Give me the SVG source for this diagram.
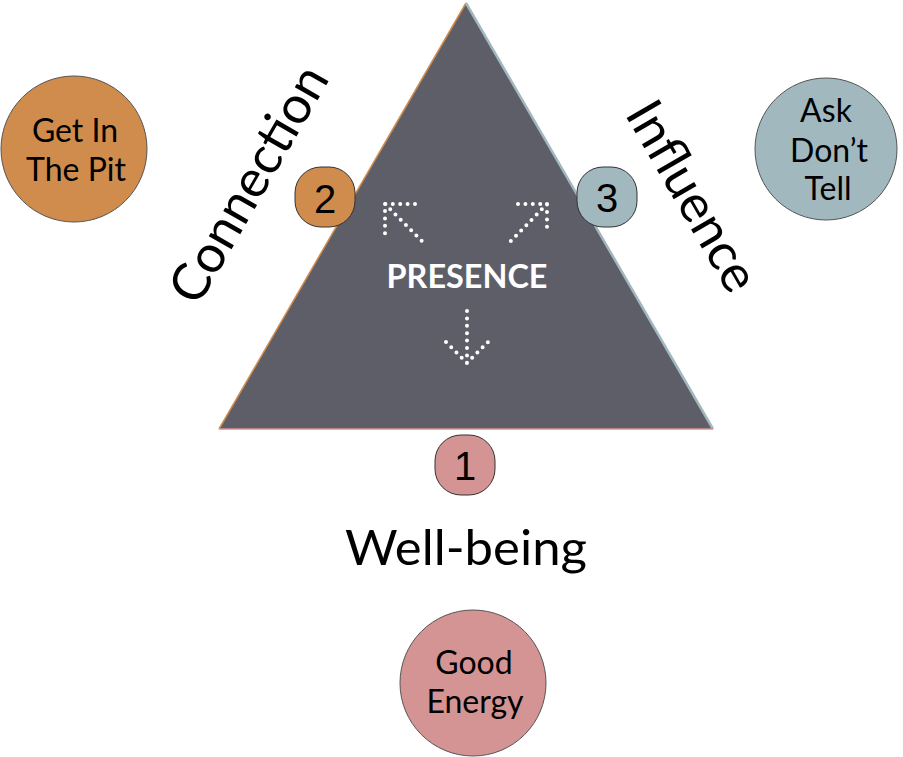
<svg xmlns="http://www.w3.org/2000/svg" width="903" height="757" viewBox="0 0 903 757">
<style>
.lbl{font-family:Lato,"Liberation Sans",sans-serif;fill:#000}
.circ{stroke:#555;stroke-width:1}
.badge{stroke:#333;stroke-width:1}
.num{font-family:"Liberation Sans",Arial,sans-serif;font-size:40px;text-anchor:middle;fill:#000}
.ctxt{font-family:Lato,"Liberation Sans",sans-serif;font-size:32px;text-anchor:middle;fill:#000}
.dots{fill:none;stroke:#fff;stroke-width:4;stroke-linecap:round;stroke-dasharray:0 7.4}
</style>
<rect width="903" height="757" fill="#fff"/>
<g id="triangle">
<polygon points="466,3 219,429 713,429" fill="#5e5e68"/>
<line x1="466" y1="3" x2="219" y2="429" stroke="#d08c4e" stroke-width="1.5"/>
<line x1="466" y1="3" x2="713" y2="429" stroke="#a0b8be" stroke-width="2.5"/>
<line x1="219" y1="429" x2="713" y2="429" stroke="#d59494" stroke-width="1.5"/>
<text x="467" y="288" font-family="Lato,'Liberation Sans',sans-serif" font-weight="bold" font-size="32" fill="#fff" text-anchor="middle" textLength="161" lengthAdjust="spacingAndGlyphs">PRESENCE</text>
</g>
<g id="connectors">
<path class="dots" d="M415,204 L385,204 L385,234 M385,204 L424,243"/>
<path class="dots" d="M518,204 L547,204 L547,234 M547,204 L509,243"/>
<path class="dots" d="M467,311 L467,363 M446,342 L467,363 L488,342"/>
</g>
<g id="node-connection">
<text class="lbl" font-size="52" text-anchor="middle" transform="translate(264,193) rotate(-60)">Connection</text>
</g>
<g id="node-influence">
<text class="lbl" font-size="52" text-anchor="middle" transform="translate(677,205) rotate(60)">Influence</text>
</g>
<g id="node-wellbeing">
<text class="lbl" font-size="48" text-anchor="middle" x="466" y="565" textLength="242" lengthAdjust="spacingAndGlyphs">Well-being</text>
</g>
<g id="badge-2">
<rect class="badge" x="295" y="167" width="60" height="60" rx="26" fill="#cf8c4c"/>
<text class="num" x="325" y="213">2</text>
</g>
<g id="badge-3">
<rect class="badge" x="577" y="167" width="60" height="60" rx="26" fill="#a0b8be"/>
<text class="num" x="607" y="212">3</text>
</g>
<g id="badge-1">
<rect class="badge" x="435" y="435" width="60" height="60" rx="26" fill="#d59494"/>
<text class="num" x="465" y="480">1</text>
</g>
<g id="node-getinthepit">
<circle class="circ" cx="74" cy="149" r="73" fill="#cf8c4c"/>
<text class="ctxt" x="75" y="142">Get In</text>
<text class="ctxt" x="76" y="181">The Pit</text>
</g>
<g id="node-askdonttell">
<circle class="circ" cx="826" cy="149" r="71" fill="#a0b8be"/>
<text class="ctxt" x="826" y="122">Ask</text>
<text class="ctxt" x="829" y="162">Don’t</text>
<text class="ctxt" x="828" y="200">Tell</text>
</g>
<g id="node-goodenergy">
<circle class="circ" cx="473" cy="683" r="73" fill="#d59494"/>
<text class="ctxt" x="474" y="674">Good</text>
<text class="ctxt" x="475" y="713">Energy</text>
</g>
</svg>
